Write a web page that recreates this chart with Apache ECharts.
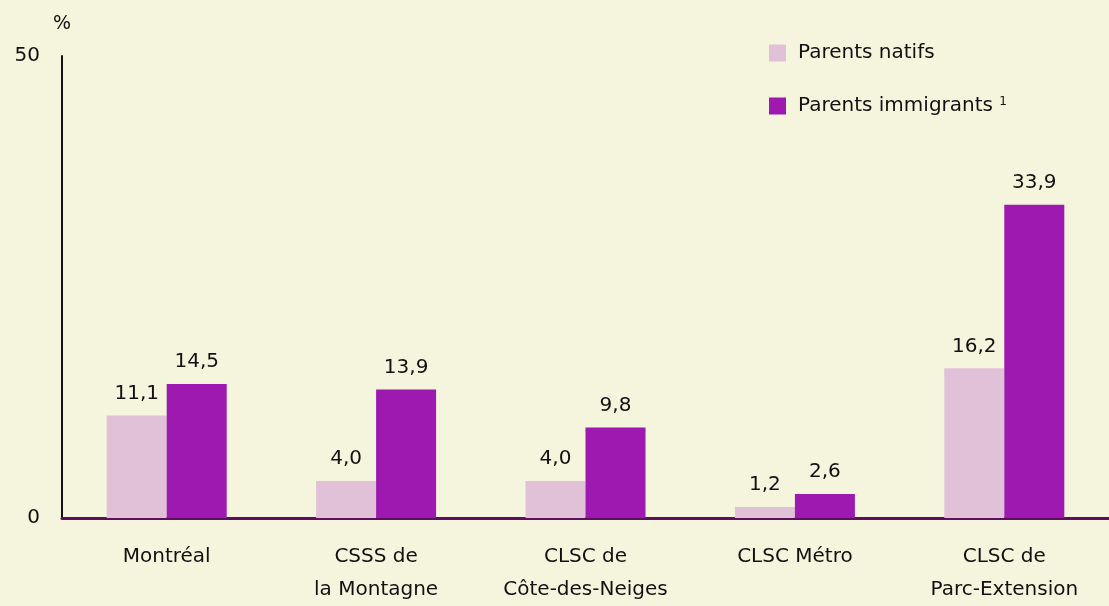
<!DOCTYPE html>
<html lang="fr">
<head>
    <meta charset="UTF-8">
    <title>Parents natifs / immigrants</title>
    <script src="https://cdn.jsdelivr.net/npm/echarts@6/dist/echarts.min.js"></script>
    <style>
        html, body { margin: 0; padding: 0; background: #F5F5DE; }
        #charts { width: 1109px; height: 606px; }
    </style>
</head>
<body>
<div id="charts"></div>
<script>
    // données
    var categories = ['Montréal', 'CSSS de\nla Montagne', 'CLSC de\nCôte-des-Neiges', 'CLSC Métro', 'CLSC de\nParc-Extension'];
    var natifs = [11.1, 4.0, 4.0, 1.2, 16.2];
    var immigrants = [14.5, 13.9, 9.8, 2.6, 33.9];
    var yTicks = [0, 50];

    var font = 'DejaVu Sans';
    var fmt = function (p) { return p.value.toFixed(1).replace('.', ','); };

    var option = {
        backgroundColor: '#F5F5DE',
        animation: false,
        textStyle: { fontFamily: font },
        grid: { left: 62, right: 0, top: 56, bottom: 80 },
        legend: {
            orient: 'vertical',
            left: 769,
            top: 43,
            padding: 0,
            itemWidth: 17,
            itemHeight: 17,
            itemGap: 33,
            icon: 'rect',
            data: ['Parents natifs', 'Parents immigrants'],
            formatter: function (name) {
                return name === 'Parents immigrants' ? name + ' {sup|1}' : name;
            },
            textStyle: {
                fontSize: 20,
                color: '#111',
                fontFamily: font,
                padding: [0, 0, 0, 7],
                rich: { sup: { fontSize: 12, verticalAlign: 'top', padding: [0, 0, 8, 0], fontFamily: font } }
            }
        },
        xAxis: {
            type: 'category',
            data: categories,
            axisTick: { show: false },
            axisLine: { lineStyle: { color: '#5C0F5C', width: 3 } },
            axisLabel: { interval: 0, color: '#111', fontSize: 20, margin: 22, lineHeight: 33, fontFamily: font }
        },
        yAxis: {
            type: 'value',
            min: yTicks[0],
            max: yTicks[1],
            interval: yTicks[1] - yTicks[0],
            name: '%',
            nameGap: 22,
            nameTextStyle: { color: '#111', fontSize: 19, align: 'center', fontFamily: font },
            axisLine: { show: true, lineStyle: { color: '#111', width: 2 } },
            axisTick: { show: false },
            splitLine: { show: false },
            axisLabel: { color: '#111', fontSize: 20, margin: 22, fontFamily: font }
        },
        series: [
            {
                name: 'Parents natifs',
                type: 'bar',
                data: natifs,
                barWidth: 60,
                barGap: '0%',
                itemStyle: { color: '#E0C1D8' },
                label: { show: true, position: 'top', distance: 12, fontSize: 20, color: '#111', fontFamily: font, formatter: fmt }
            },
            {
                name: 'Parents immigrants',
                type: 'bar',
                data: immigrants,
                barWidth: 60,
                barGap: '0%',
                itemStyle: { color: '#9E19B0' },
                label: { show: true, position: 'top', distance: 12, fontSize: 20, color: '#111', fontFamily: font, formatter: fmt }
            }
        ]
    };

    var myChart = echarts.init(document.getElementById('charts'));
    myChart.setOption(option);
</script>
</body>
</html>
